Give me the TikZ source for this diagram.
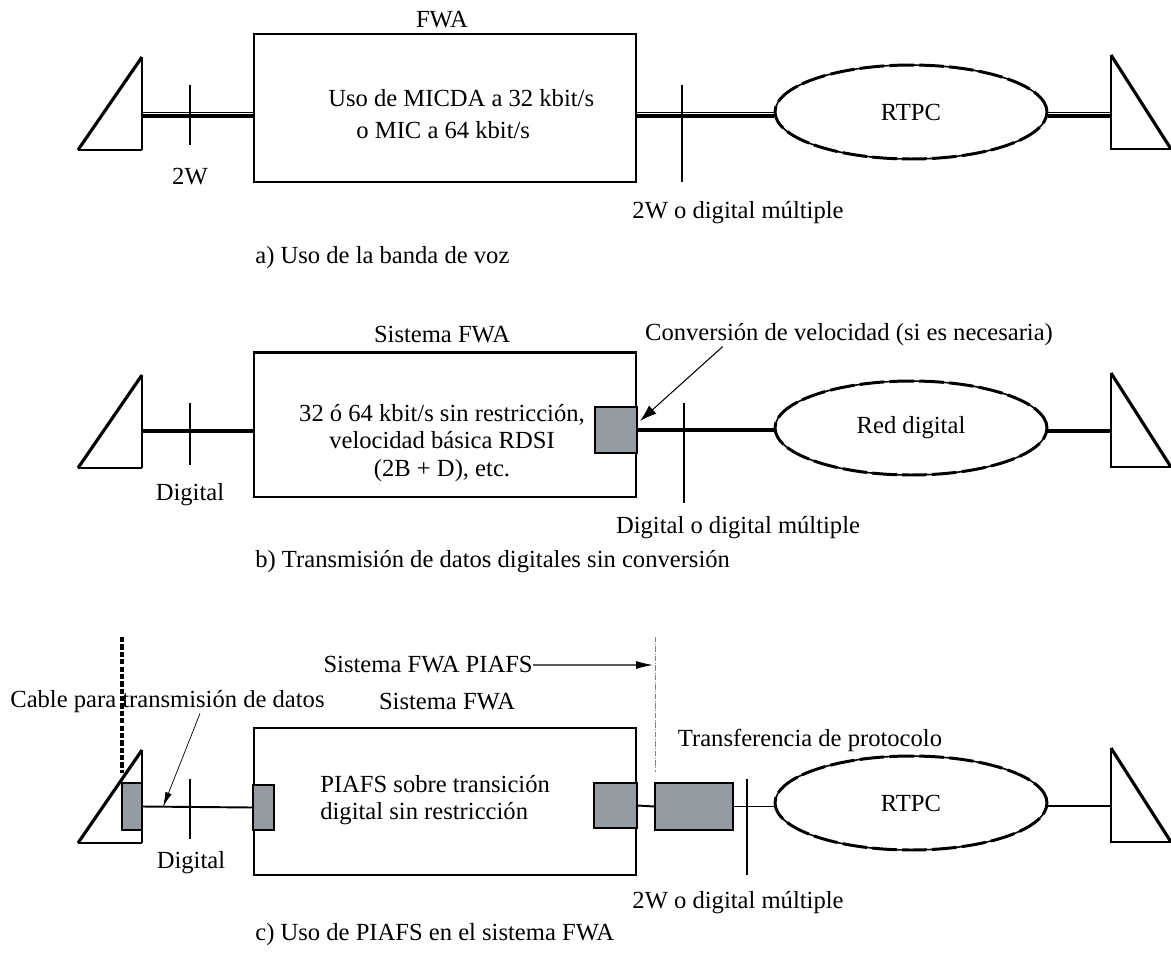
\documentclass[tikz,border=0pt]{standalone}
\usepackage{fontspec}
\setmainfont{Liberation Serif}
\usetikzlibrary{shapes.geometric,arrows.meta}
\definecolor{unitgray}{RGB}{150,155,161}
% terminal sets: top vertex of the vertical side
\def\lset(#1,#2){\draw[line width=0.7pt] (#1-64,#2+93) -- (#1,#2+93); \draw[line width=1.3pt] (#1,#2+93) -- (#1,#2); \draw[line width=1.8pt] (#1-64,#2+93) -- (#1,#2);}
\def\rset(#1,#2){\draw[line width=0.7pt] (#1,#2) -- (#1,#2+94) -- (#1+60,#2+94); \draw[line width=1.8pt] (#1,#2) -- (#1+60,#2+94);}
% 2-wire voice link (thick + thin)
\def\voice(#1)(#2){\draw[line width=1.9pt] (#1) -- (#2); \draw[line width=0.6pt, transform canvas={yshift=1.8pt}] (#1) -- (#2);}

\begin{document}
\begin{tikzpicture}[x=0.02cm, y=-0.02cm,
	every node/.style={font=\fontsize{14}{16}\selectfont, inner sep=0pt},
	fwabox/.style={draw, line width=0.8pt, minimum width=7.64cm, minimum height=2.96cm},
	net/.style={ellipse, draw, line width=0.9pt, minimum width=5.44cm, minimum height=1.88cm,
		postaction={draw, line width=1.7pt, dash pattern=on 14pt off 3pt}},
	unit/.style={draw, fill=unitgray, line width=0.8pt},
	dlink/.style={line width=1.9pt},
	slink/.style={line width=1.1pt},
	tickmark/.style={line width=0.8pt},
	bigtick/.style={line width=1.4pt}]
		
		\useasboundingbox (0,0) rectangle (1171,958);
		
		%%%%% a) banda de voz %%%%%
		\lset(142,57)
		\rset(1111,55)
		\coordinate (aL) at (142,116);
		\coordinate (aR) at (1111,116);
		\node[fwabox] (abox) at (445,108) {};
		\node[net] (anet) at (911,112) {RTPC};
		\node[anchor=west, align=left, font=\fontsize{14}{18}\selectfont] (atxt) at (328,114) {Uso de MICDA a 32 kbit/s\\\hspace*{16pt}o MIC a 64 kbit/s};
		
		\voice(aL)(aL -| abox.west)
		\voice(aL -| abox.east)(aL -| anet.west)
		\voice(aR -| anet.east)(aR)
		
		\draw[tickmark] (190,85) -- (190,145);
		\draw[bigtick] (682,85) -- (682,182);
		
		\node (afwa) at (442,20) {FWA};
		\node (a2w) at (190,177) {2W};
		\node (amux) at (738,213) {2W o digital múltiple};
		\node[anchor=west] (acap) at (255,258) {a) Uso de la banda de voz};
		
		%%%%% b) datos digitales %%%%%
		\lset(142,375)
		\rset(1111,373)
		\coordinate (bL) at (142,431);
		\coordinate (bR) at (1111,431);
		\node[fwabox, minimum height=2.88cm] (bbox) at (445,425) {};
		\draw[line width=1.8pt] (bbox.north west) -- (bbox.north east);
		\node[unit, minimum width=0.84cm, minimum height=0.92cm] (bconv) at (616,430) {};
		\node[net] (bnet) at (911,428) {Red digital};
		\node[align=center, font=\fontsize{14}{15.6}\selectfont] (btxt) at (442,443) {32 ó 64 kbit/s sin restricción,\\velocidad básica RDSI\\(2B + D), etc.};
		
		\draw[dlink] (bL) -- (bL -| bbox.west);
		\draw[dlink] (bconv.east) -- (bconv.east -| bnet.west);
		\draw[dlink] (bR -| bnet.east) -- (bR);
		
		\draw[tickmark] (190,403) -- (190,465);
		\draw[bigtick] (684,403) -- (684,503);
		
		\node (bfwa) at (442,335) {Sistema FWA};
		\node (bconvlbl) at (849,335) {Conversión de velocidad (si es necesaria)};
		\coordinate (btip) at (640,421);
		\draw[line width=0.6pt, -{Latex[length=3.4mm,width=2.2mm]}] ([xshift=1.56cm]bconvlbl.south west) -- (btip);
		\node (bdig) at (190,495) {Digital};
		\node (bmux) at (738,528) {Digital o digital múltiple};
		\node[anchor=west] (bcap) at (255,562) {b) Transmisión de datos digitales sin conversión};
		
		%%%%% c) PIAFS %%%%%
		\lset(142,750)
		\rset(1111,748)
		\draw[line width=2pt, dash pattern=on 3pt off 1.2pt] (122,637) -- (122,773);
		\node[fwabox, minimum height=2.94cm] (cbox) at (445,801.5) {};
		\node[unit, minimum width=0.4cm, minimum height=0.94cm] (cterm) at (132,806.5) {};
		\node[unit, minimum width=0.42cm, minimum height=0.9cm] (cin) at (263.5,807.5) {};
		\node[unit, minimum width=0.86cm, minimum height=0.9cm] (cout) at (615.5,805.5) {};
		\node[unit, minimum width=1.56cm, minimum height=0.94cm] (cproto) at (694,806.5) {};
		\node[net] (cnet) at (911,803) {RTPC};
		\coordinate (cR) at (1111,806);
		\node[anchor=west, align=left, font=\fontsize{14}{15}\selectfont] (ctxt) at (320,800) {PIAFS sobre transición\\digital sin restricción};
		
		\draw[slink] (cterm.east) -- (cin.west);
		\draw[slink] (cout.east) -- (cproto.west);
		\draw[slink] (cproto.east) -- (cproto.east -| cnet.west);
		\draw[slink] (cR -| cnet.east) -- (cR);
		
		\draw[tickmark] (190,779) -- (190,839);
		\draw[bigtick] (747,779) -- (747,875);
		\draw[gray, line width=0.4pt, densely dashdotted] (655,637) -- (655,772);
		
		\node[anchor=east] (cpiafs) at (533,665) {Sistema FWA PIAFS};
		\coordinate (cedge) at (653,665);
		\draw[gray!70!black, line width=0.6pt, -{Latex[length=3.4mm,width=1.6mm,color=black]}] (cpiafs.east) -- (cedge);
		\node[anchor=west] (ccable) at (10,702) {Cable para transmisión de datos};
		\node (cfwa) at (447,702) {Sistema FWA};
		\coordinate (ctip) at (163,807);
		\draw[line width=0.4pt, -{Latex[length=3mm,width=1.3mm]}] ([xshift=3.8cm]ccable.south west) -- (ctip);
		\node (cproto lbl) at (810,740) {Transferencia de protocolo};
		\node (cdig) at (191,863) {Digital};
		\node (cmux) at (738,903) {2W o digital múltiple};
		\node[anchor=west] (ccap) at (255,935) {c) Uso de PIAFS en el sistema FWA};
		
	\end{tikzpicture}
\end{document}
